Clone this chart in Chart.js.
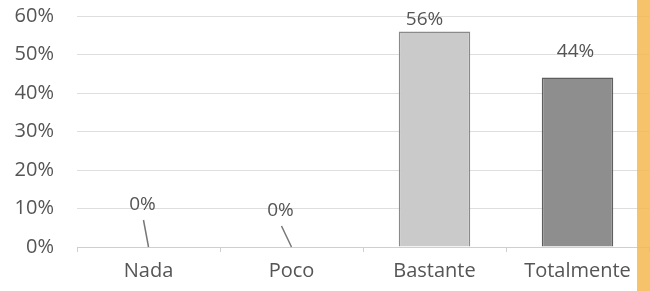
<!DOCTYPE html>
<html>
<head>
<meta charset="utf-8">
<script src="https://cdn.jsdelivr.net/npm/chart.js@4"></script>
<style>
  html, body { margin: 0; padding: 0; background: #fff; }
  #wrap { position: relative; width: 650px; height: 291px; }
  #strip { position: absolute; left: 637px; top: 0; width: 13px; height: 291px; background: rgba(246, 185, 80, 0.85); }
</style>
</head>
<body>
<div id="wrap">
  <canvas id="chart" width="650" height="291"></canvas>
  <div id="strip"></div>
</div>
<script>
(function(){
  'use strict';

  const categories = ['Nada', 'Poco', 'Bastante', 'Totalmente'];
  const values = [0, 0, 56, 44];
  const yTicks = [0, 10, 20, 30, 40, 50, 60];

  const fills = ['#c9c9c9', '#c9c9c9', '#cacaca', '#8e8e8e'];
  const borders = ['#8a8a8a', '#8a8a8a', '#8a8a8a', '#5e5e5e'];
  // label offsets from bar top (px), leader line when label is pulled away
  const labelShift = [[-6, -42], [-11, -36], [-10, -12], [-2, -26]];

  const FONT = '"Open Sans", "Liberation Sans", sans-serif';

  const valueLabels = {
    id: 'valueLabels',
    afterDatasetsDraw(chart){
      const {ctx} = chart;
      const meta = chart.getDatasetMeta(0);
      ctx.save();
      ctx.font = '19px ' + FONT;
      ctx.fillStyle = '#555';
      ctx.textAlign = 'center';
      ctx.textBaseline = 'middle';
      meta.data.forEach((bar, i) => {
        const [dx, dy] = labelShift[i];
        const lx = bar.x + dx, ly = bar.y + dy;
        ctx.fillText(values[i] + '%', lx, ly);
        if (values[i] === 0) {
          ctx.strokeStyle = '#777';
          ctx.lineWidth = 1.5;
          ctx.beginPath();
          ctx.moveTo(lx + 1, ly + 15);
          ctx.lineTo(bar.x, bar.y);
          ctx.stroke();
        }
      });
      ctx.restore();
    }
  };

  new Chart(document.getElementById('chart'), {
    type: 'bar',
    data: {
      labels: categories,
      datasets: [{
        data: values,
        backgroundColor: fills,
        borderColor: borders,
        borderWidth: 1.5,
        barPercentage: 0.5,
        categoryPercentage: 1
      }]
    },
    options: {
      responsive: false,
      animation: false,
      layout: { padding: { top: 16, right: 1, left: 0, bottom: 0 } },
      plugins: { legend: { display: false }, tooltip: { enabled: false } },
      scales: {
        x: {
          afterFit(s){ s.height = 44; s.paddingLeft = 0; s.paddingRight = 0; },
          grid: { drawOnChartArea: false, drawTicks: true, tickLength: 5, color: '#d0d0d0', offset: true },
          border: { color: '#cfcfcf', width: 1 },
          ticks: { color: '#555', font: { family: FONT, size: 20 }, padding: 7 }
        },
        y: {
          min: 0, max: 60,
          afterFit(s){ s.width = 77; s.paddingTop = 0; s.paddingBottom = 0; },
          afterBuildTicks(s){ s.ticks = yTicks.map(v => ({ value: v })); },
          grid: { drawTicks: false, color: '#dedede' },
          border: { display: false },
          ticks: {
            color: '#555', font: { family: FONT, size: 20 }, padding: 23,
            callback: v => v + '%'
          }
        }
      }
    },
    plugins: [valueLabels]
  });
})();
</script>
</body>
</html>
